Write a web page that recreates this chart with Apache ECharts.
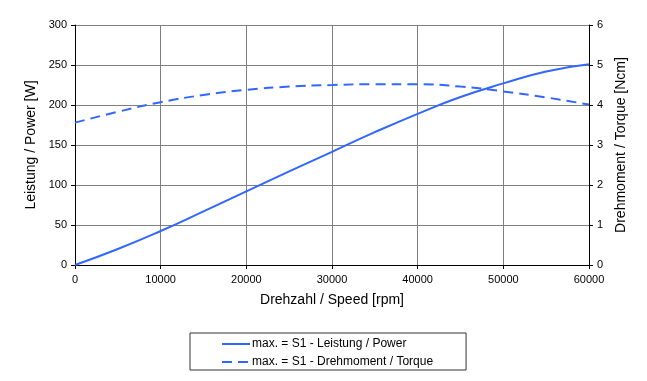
<!DOCTYPE html>
<html><head><meta charset="utf-8">
<script src="https://cdn.jsdelivr.net/npm/echarts@6/dist/echarts.min.js"></script>
<style>html,body{margin:0;padding:0;background:#fff}#c{width:647px;height:381px}</style>
</head><body><div id="c"></div>
<script>
const speed = [0, 5000, 10000, 15000, 20000, 25000, 30000, 35000, 40000, 45000, 50000, 55000, 60000];
const power = [0, 20, 42.5, 67, 92, 117, 141.5, 166, 189, 210, 227, 242, 251];
const torque = [3.56, 3.83, 4.07, 4.25, 4.38, 4.46, 4.50, 4.52, 4.52, 4.46, 4.34, 4.19, 4.01];
const powerName = 'max. = S1 - Leistung / Power';
const torqueName = 'max. = S1 - Drehmoment / Torque';
const F = '"Liberation Sans", Arial, sans-serif';
const col = '#3366ff';
const chart = echarts.init(document.getElementById('c'));
chart.setOption({
  animation: false,
  textStyle: {fontFamily: F},
  grid: {left: 75, right: 58, top: 25, bottom: 116, containLabel: false},
  legend: {
    orient: 'vertical', left: 190, top: 333,
    padding: [5, 33, 2, 31], itemGap: 6, itemWidth: 28, itemHeight: 14,
    borderColor: '#333', borderWidth: 1,
    itemStyle: {opacity: 0},
    textStyle: {fontFamily: F, fontSize: 12, color: '#000', padding: [0,0,0,-3]},
    data: [powerName, torqueName]
  },
  xAxis: {
    type: 'value', min: 0, max: 60000, interval: 10000,
    name: 'Drehzahl / Speed [rpm]', nameLocation: 'middle', nameGap: 28,
    nameTextStyle: {fontFamily: F, fontSize: 14, color: '#000'},
    axisLine: {lineStyle: {color: '#000'}},
    axisTick: {lineStyle: {color: '#000'}, length: 4},
    axisLabel: {fontFamily: F, fontSize: 11, color: '#000', margin: 9, formatter: v => String(v)},
    splitLine: {lineStyle: {color: '#808080'}}
  },
  yAxis: [{
    type: 'value', min: 0, max: 300, interval: 50, position: 'left',
    name: 'Leistung / Power [W]', nameLocation: 'middle', nameGap: 32,
    nameTextStyle: {fontFamily: F, fontSize: 14, color: '#000'},
    axisLine: {show: true, lineStyle: {color: '#000'}},
    axisTick: {show: true, lineStyle: {color: '#000'}, length: 4},
    axisLabel: {fontFamily: F, fontSize: 11, color: '#000', margin: 8},
    splitLine: {lineStyle: {color: '#808080'}}
  }, {
    type: 'value', min: 0, max: 6, interval: 1, position: 'right',
    name: 'Drehmoment / Torque [Ncm]', nameLocation: 'middle', nameGap: 21,
    nameTextStyle: {fontFamily: F, fontSize: 14, color: '#000'},
    axisLine: {show: true, lineStyle: {color: '#000'}},
    axisTick: {show: true, lineStyle: {color: '#000'}, length: 4},
    axisLabel: {fontFamily: F, fontSize: 11, color: '#000', margin: 8},
    splitLine: {show: false}
  }],
  series: [{
    name: powerName, type: 'line', yAxisIndex: 0, smooth: true, symbol: 'none',
    lineStyle: {color: col, width: 2}, itemStyle: {color: col},
    data: speed.map((s, i) => [s, power[i]])
  }, {
    name: torqueName, type: 'line', yAxisIndex: 1, smooth: true, symbol: 'none',
    lineStyle: {color: col, width: 2, type: [10, 6]}, itemStyle: {color: col},
    data: speed.map((s, i) => [s, torque[i]])
  }]
});
</script></body></html>
